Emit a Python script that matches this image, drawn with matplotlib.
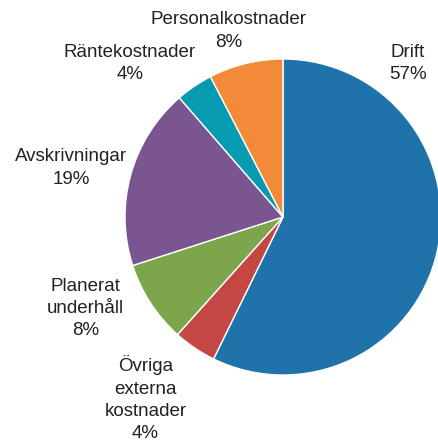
import matplotlib.pyplot as plt

plt.rcParams['font.family'] = ['Liberation Sans', 'DejaVu Sans']

labels = ['Drift', 'Övriga\nexterna\nkostnader', 'Planerat\nunderhåll',
          'Avskrivningar', 'Räntekostnader', 'Personalkostnader']
values = [57.3, 4.4, 8.4, 18.6, 3.8, 7.6]
percents = [57, 4, 8, 19, 4, 8]
colors = ['#1f72aa', '#c44743', '#7ba64b', '#7a5690', '#069bb1', '#f28a37']

# label centres, in units of the pie radius
label_pos = [(0.79, 0.97), (-0.87, -1.15), (-1.25, -0.58),
             (-1.34, 0.31), (-0.97, 0.97), (-0.345, 1.177)]

fig = plt.figure(figsize=(4.39, 4.43), dpi=100)
ax = fig.add_axes([0, 0, 1, 1])

ax.pie(values, colors=colors, startangle=90, counterclock=False,
       wedgeprops=dict(edgecolor='white', linewidth=1))

for lab, p, (x, y) in zip(labels, percents, label_pos):
    ax.text(x, y, f'{lab}\n{p}%', ha='center', va='center',
            multialignment='center', fontsize=13.5, color='#222222',
            linespacing=1.4)

ax.set_xlim(-283 / 158, 156 / 158)
ax.set_ylim(-226 / 158, 217 / 158)
ax.set_aspect('equal')
ax.axis('off')

fig.savefig('out.png', dpi=100)
